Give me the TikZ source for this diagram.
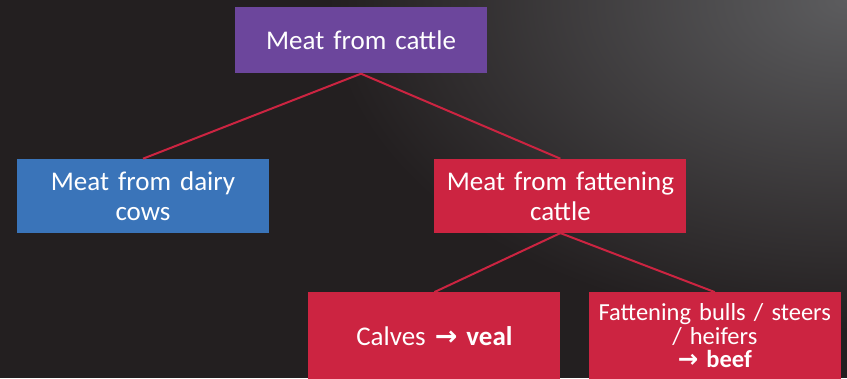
\documentclass[tikz,border=0pt]{standalone}
\usepackage{fontspec}
\setmainfont{Carlito}
\newfontfamily\arrowfont{DejaVu Sans}
\usetikzlibrary{positioning}
\definecolor{slate}{HTML}{231F20}
\definecolor{glow}{HTML}{5C5C5E}
\definecolor{grape}{HTML}{6C469C}
\definecolor{sky}{HTML}{3A74B9}
\definecolor{crimson}{HTML}{CC2441}
\tikzset{box/.style={fill=crimson,text=white,minimum width=252pt,minimum height=74pt,
 text width=240pt,align=center,inner sep=0pt,font=\fontsize{27}{30}\selectfont},
 leaf/.style={box,minimum height=87pt,font=\fontsize{24.5}{23.5}\selectfont},
 link/.style={draw=crimson,line width=2pt}}
\newcommand{\toarr}{{\arrowfont\bfseries →}}

\begin{document}
\begin{tikzpicture}[node distance=85pt and 165pt]
\useasboundingbox (0,0) rectangle (847pt,378pt);
\fill[slate] (0,0) rectangle (847pt,378pt);
\begin{scope}
\clip (0,0) rectangle (847pt,378pt);
\shade[inner color=glow,outer color=slate] (847pt,378pt) ellipse (520pt and 330pt);
\end{scope}
\node[box,fill=grape,minimum height=66pt] (cattle) at (361pt,337.5pt) {Meat from cattle};
\node[box,below right=85pt and -53pt of cattle] (fattening) {Meat from fattening\\cattle};
\node[box,fill=sky,left=165pt of fattening] (dairy) {Meat from dairy\\cows};
\node[leaf,font=\fontsize{27}{30}\selectfont,below=59pt of fattening,xshift=-126pt] (calves) {Calves \toarr{} \textbf{veal}};
\node[leaf,right=28pt of calves] (beef) {Fattening bulls / steers\\/ heifers\\\toarr{} \textbf{beef}};
\draw[link] (cattle.south) -- (dairy.north);
\draw[link] (cattle.south) -- (fattening.north);
\draw[link] (fattening.south) -- (calves.north);
\draw[link] (fattening.south) -- (beef.north);
\end{tikzpicture}
\end{document}
